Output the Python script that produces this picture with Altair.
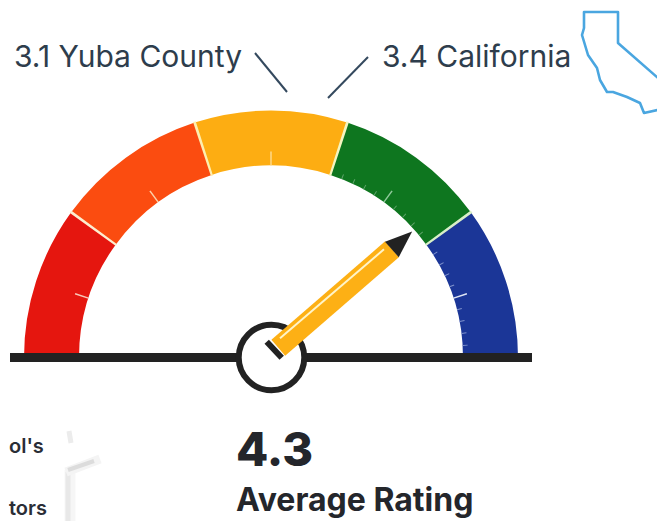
import math
import altair as alt
import pandas as pd

# gauge bands on a 1..6 scale spanning the half circle
band_start = [1, 2, 3, 4, 5]
band_end = [2, 3, 4, 5, 6]
band_color = ["#e5160f", "#fb4c10", "#fdad12", "#0e761f", "#1b3697"]
separators = [2, 3, 4, 5]
sep_color = ["#fdeed0", "#fdeeb0", "#f5f5c0", "#d8efc8"]
major_ticks = [1.5, 2.5, 3.5, 4.5, 5.5]
major_color = ["#f8c8b8", "#fbd0a8", "#fdd88a", "#8fc89a", "#dfe6f5"]
minor_ticks = [4.1, 4.2, 4.3, 4.4, 4.6, 4.7, 4.8, 4.9, 5.1, 5.2, 5.3, 5.4, 5.6, 5.7, 5.8, 5.9]
minor_color = ["#5fa36a"] * 8 + ["#7f92cc"] * 8

labels = ["3.1 Yuba County", "3.4 California"]
label_x = [14, 382]
label_y = [67, 67]
leader_x = [255, 368]
leader_y = [53, 57]
leader_x2 = [287, 328]
leader_y2 = [92, 98]

ca_x = [666, 618, 618, 584, 584, 582, 585, 588, 597, 600, 607, 613, 627, 640, 644, 666]
ca_y = [85, 43, 12, 12, 28, 35, 45, 55, 68, 80, 92, 92, 97, 103, 113, 108]

CX, CY = 271, 357.5
OUT, INN = 247, 192

xs = alt.Scale(domain=[8, 657], nice=False, zero=False)
ys = alt.Scale(domain=[521, 8], nice=False, zero=False)
ts = alt.Scale(domain=[1, 6], range=[-math.pi / 2, math.pi / 2], nice=False, zero=False)
X = alt.X("x:Q", scale=xs, axis=None)
Y = alt.Y("y:Q", scale=ys, axis=None)
vx, vy = alt.value(CX - 8), alt.value(CY - 8)


def arcs(start, end, colors, r, r2):
    df = pd.DataFrame({"s": start, "e": end, "c": colors})
    return alt.Chart(df).mark_arc(radius=r, radius2=r2).encode(
        theta=alt.Theta("s:Q", scale=ts, stack=None),
        theta2="e:Q",
        color=alt.Color("c:N", scale=None),
        x=vx, y=vy,
    )


def ticks(vals, colors, half, r, r2):
    return arcs([v - half for v in vals], [v + half for v in vals], colors, r, r2)


def rule(x, y, x2, y2, color, width, **kw):
    df = pd.DataFrame({"x": x, "y": y, "x2": x2, "y2": y2})
    return alt.Chart(df).mark_rule(color=color, strokeWidth=width, **kw).encode(
        x=X, y=Y, x2="x2:Q", y2="y2:Q")


def text(t, x, y, size, weight, color, align="left"):
    df = pd.DataFrame({"t": t, "x": x, "y": y})
    return alt.Chart(df).mark_text(font="Inter", fontSize=size, fontWeight=weight, color=color,
                                   align=align, baseline="alphabetic").encode(x=X, y=Y, text="t:N")


bands = arcs(band_start, band_end, band_color, OUT, INN)
seps = ticks(separators, sep_color, 0.009, OUT + 1, INN - 1)
major = ticks(major_ticks, major_color, 0.006, INN + 14, INN)
minor = ticks(minor_ticks, minor_color, 0.004, INN + 5, INN)

baseline = rule([10], [357.5], [532], [357.5], "#222222", 9)
hub = alt.Chart(pd.DataFrame({"x": [271.5], "y": [357.5]})).mark_point(
    shape="circle", size=4300, fill="white", stroke="#222222", strokeWidth=6, opacity=1, filled=False
).encode(x=X, y=Y)

body = rule([278.3], [347.7], [392], [249.3], "#fdb015", 21)
shine = rule([280], [338.3], [384], [249.3], "#fff4c8", 2)
eraser = rule([266.7], [341.7], [281.7], [357.7], "#222222", 6)
tip = alt.Chart(pd.DataFrame({"x": [402], "y": [240.5]})).mark_point(
    shape="M0,-1L0.77,1L-0.77,1Z", size=729, angle=48.6, filled=True, color="#222222", opacity=1
).encode(x=X, y=Y)

leaders = rule(leader_x, leader_y, leader_x2, leader_y2, "#34495e", 2)
label_marks = text(labels, label_x, label_y, 30, 400, "#2e3d4c")

ca = alt.Chart(pd.DataFrame({"x": ca_x, "y": ca_y, "i": range(len(ca_x))})).mark_line(
    color="#4aa6e0", strokeWidth=2.6, strokeJoin="round"
).encode(x=X, y=Y, order="i:Q")

rating = text(["4.3"], [236], [466], 47, 800, "#24262b")
title = text(["Average Rating"], [236], [511], 32, 700, "#24262b")
school = text(["ol's"], [9], [453], 20, 600, "#2a2d36")
educ = text(["tors"], [9], [515], 20, 600, "#2a2d36")

shadow_a = rule([70], [470], [70], [521], "#f6f6f6", 11)
shadow_b = rule([68], [472], [68], [521], "#e8e8e8", 5)
shadow_c = rule([66], [472], [100], [459], "#f4f4f4", 9)
shadow_d = rule([68], [470], [94], [461], "#dcdcdc", 4)
shadow_e = rule([69], [431], [71], [443], "#ececec", 5)

chart = alt.layer(
    shadow_a, shadow_b, shadow_c, shadow_d, shadow_e,
    bands, major, minor, seps, baseline, hub, body, shine, eraser, tip,
    leaders, label_marks, ca, rating, title, school, educ,
).properties(width=649, height=513, padding=0, background="white",
             autosize=alt.AutoSizeParams(type="none")
).configure_view(stroke=None)

chart.save("out.html", embed_options={"renderer": "svg", "actions": False})
